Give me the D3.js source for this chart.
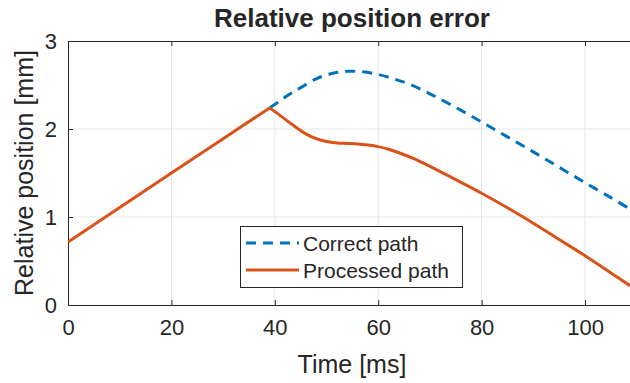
<!DOCTYPE html>
<html><head><meta charset="utf-8">
<script src="https://cdn.jsdelivr.net/npm/d3@7"></script>
<style>body{margin:0;background:#fff}svg{display:block}text{font-family:"Liberation Sans",Arial,sans-serif;fill:#262626}</style>
</head><body>
<script>
const title = "Relative position error";
const xLabel = "Time [ms]";
const yLabel = "Relative position [mm]";
const seriesNames = ["Correct path", "Processed path"];
const xTicks = [0, 20, 40, 60, 80, 100];
const yTicks = [0, 1, 2, 3];
const xDomain = [0, 108.7];
const yDomain = [0, 3];

const processedT = [0, 10, 20, 30, 39, 41, 43.5, 46, 48, 50, 52, 54, 56, 58, 60, 62, 64, 67, 70, 75, 80, 85, 90, 95, 100, 105, 108.7];
const processedV = [0.715, 1.107, 1.499, 1.89, 2.24, 2.155, 2.045, 1.945, 1.89, 1.857, 1.842, 1.836, 1.83, 1.818, 1.80, 1.77, 1.73, 1.66, 1.575, 1.425, 1.27, 1.105, 0.93, 0.745, 0.56, 0.365, 0.22];
const correctT = [39, 41, 43, 45, 48, 51, 54, 57, 60, 63, 66, 70, 75, 80, 85, 90, 95, 100, 105, 108.7];
const correctV = [2.24, 2.32, 2.40, 2.47, 2.57, 2.63, 2.655, 2.65, 2.62, 2.57, 2.51, 2.40, 2.245, 2.08, 1.91, 1.74, 1.565, 1.39, 1.22, 1.09];

const W = 630, H = 383;
const L = 68, R = 630, T = 41, B = 305;
const svg = d3.select("body").append("svg").attr("width", W).attr("height", H);
const x = d3.scaleLinear().domain(xDomain).range([L, R]);
const y = d3.scaleLinear().domain(yDomain).range([B, T]);

// grid
svg.append("g").selectAll("line").data(xTicks.slice(1)).join("line")
  .attr("x1", d => x(d)).attr("x2", d => x(d)).attr("y1", T).attr("y2", B)
  .attr("stroke", "#e6e6e6").attr("stroke-width", 1);
svg.append("g").selectAll("line").data(yTicks.slice(1, -1)).join("line")
  .attr("x1", L).attr("x2", R).attr("y1", d => y(d)).attr("y2", d => y(d))
  .attr("stroke", "#e6e6e6").attr("stroke-width", 1);

// axes
const tl = 5;
const xAxis = d3.axisBottom(x).tickValues(xTicks).tickFormat(d3.format("d")).tickSizeInner(-tl).tickSizeOuter(0).tickPadding(14);
const gx = svg.append("g").attr("transform", `translate(0,${B})`).call(xAxis);
const yAxis = d3.axisLeft(y).tickValues(yTicks).tickFormat(d3.format("d")).tickSizeInner(-tl).tickSizeOuter(0).tickPadding(11);
const gy = svg.append("g").attr("transform", `translate(${L},0)`).call(yAxis);
const xTop = d3.axisTop(x).tickValues(xTicks).tickSizeInner(-tl).tickSizeOuter(0).tickFormat("");
const gt = svg.append("g").attr("transform", `translate(0,${T})`).call(xTop);
[gx, gy, gt].forEach(g => {
  g.select(".domain").attr("stroke", "#262626").attr("stroke-width", 1);
  g.selectAll(".tick line").attr("stroke", "#262626").attr("stroke-width", 1);
  g.selectAll("text").style("font-size", "22px").attr("fill", "#262626").style("font-family", "Liberation Sans, Arial, sans-serif");
});
gx.selectAll(".tick text").attr("dy", "0.71em");
gy.selectAll(".tick text").attr("dy", "0.36em");

// clip
svg.append("clipPath").attr("id", "clip").append("rect").attr("x", L).attr("y", T).attr("width", R - L).attr("height", B - T);

const line = d3.line().x(d => x(d[0])).y(d => y(d[1])).curve(d3.curveCatmullRom.alpha(0.5));
const correct = correctT.map((t, i) => [t, correctV[i]]);
const processed = processedT.map((t, i) => [t, processedV[i]]);
const procLine = d3.line().x(d => x(d[0])).y(d => y(d[1]));

svg.append("path").attr("clip-path", "url(#clip)").datum(correct).attr("d", line)
  .attr("fill", "none").attr("stroke", "#0072BD").attr("stroke-width", 3).attr("stroke-dasharray", "10,7");
svg.append("path").attr("clip-path", "url(#clip)")
  .datum(processed.filter(d => d[0] <= 39)).attr("d", procLine)
  .attr("fill", "none").attr("stroke", "#D95319").attr("stroke-width", 3);
svg.append("path").attr("clip-path", "url(#clip)")
  .datum(processed.filter(d => d[0] >= 39)).attr("d", line)
  .attr("fill", "none").attr("stroke", "#D95319").attr("stroke-width", 3);

// title & labels
svg.append("text").attr("x", (L + R) / 2 + 3).attr("y", 27).attr("text-anchor", "middle")
  .style("font-size", "26px").style("font-weight", "bold").attr("fill", "#000").text(title);
svg.append("text").attr("x", (L + R) / 2 + 3).attr("y", 373).attr("text-anchor", "middle")
  .style("font-size", "25px").text(xLabel);
svg.append("text").attr("transform", `translate(33,${(T + B) / 2}) rotate(-90)`).attr("text-anchor", "middle")
  .style("font-size", "25px").text(yLabel);

// legend
const lg = svg.append("g");
lg.append("rect").attr("x", 240.5).attr("y", 226.5).attr("width", 222).attr("height", 61)
  .attr("fill", "#fff").attr("stroke", "#262626").attr("stroke-width", 1);
const rows = [
  {name: seriesNames[0], color: "#0072BD", dash: "10,7", y: 243},
  {name: seriesNames[1], color: "#D95319", dash: null, y: 270}
];
rows.forEach(r => {
  lg.append("line").attr("x1", 246).attr("x2", 299).attr("y1", r.y).attr("y2", r.y)
    .attr("stroke", r.color).attr("stroke-width", 3).attr("stroke-dasharray", r.dash);
  lg.append("text").attr("x", 303).attr("y", r.y + 8).style("font-size", "21px").attr("fill", "#000").text(r.name);
});
</script>
</body></html>
